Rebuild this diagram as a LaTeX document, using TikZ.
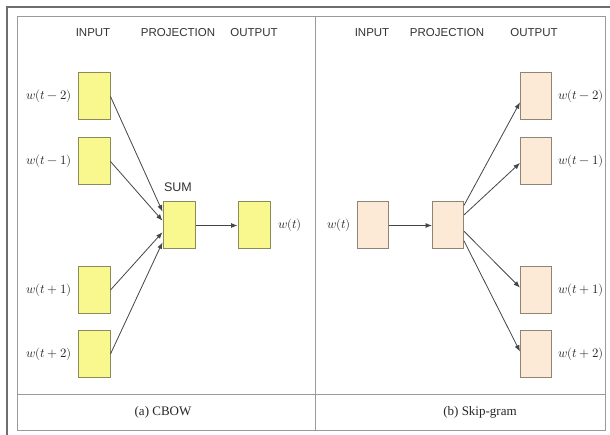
\documentclass[tikz,border=0pt]{standalone}
\usepackage{fontspec}
\usepackage{unicode-math}
\setmainfont{Liberation Serif}
\newfontfamily\hdrfont{Liberation Sans}
\usetikzlibrary{arrows.meta,calc}
\definecolor{ybfill}{HTML}{F8F88E}
\definecolor{ybdraw}{HTML}{8A8A5A}
\definecolor{pbfill}{HTML}{FCEAD6}
\definecolor{pbdraw}{HTML}{8E8478}
\definecolor{framegray}{HTML}{9A9A9A}
\definecolor{outergray}{HTML}{6E6E6E}
\definecolor{arrgray}{HTML}{454545}
\tikzset{
  ybox/.style={draw=ybdraw, fill=ybfill, line width=1pt, minimum width=32pt, minimum height=47pt, inner sep=0pt},
  pbox/.style={draw=pbdraw, fill=pbfill, line width=1pt, minimum width=31pt, minimum height=47pt, inner sep=0pt},
  hdr/.style={font=\hdrfont\fontsize{11.5}{13}\selectfont, text=black!80, inner sep=0pt},
  wlab/.style={font=\fontsize{12.8}{14}\selectfont, text=black!85, inner sep=0pt},
  capt/.style={font=\fontsize{13}{15}\selectfont, text=black!85, inner sep=0pt},
  conn/.style={draw=arrgray, line width=0.8pt, -{Latex[length=6.5pt,width=5pt]}}
}
\begin{document}
\begin{tikzpicture}[x=1pt,y=-1pt]
\useasboundingbox (0,0) rectangle (610,435);
\fill[white] (0,0) rectangle (610,435);
% outer lines
\draw[outergray, line width=1.5pt] (7,435) -- (7,7) -- (610,7);
% inner frame
\draw[framegray, line width=1pt] (17,17) rectangle (605,430);
\draw[framegray, line width=1pt] (315,17) -- (315,430);
\draw[framegray, line width=1pt] (17,394) -- (605,394);

% headers
\node[hdr] (hl1) at (93,33) {INPUT};
\node[hdr] (hl2) at (178,33) {PROJECTION};
\node[hdr] (hl3) at (254,33) {OUTPUT};
\node[hdr] (hr1) at (372,33) {INPUT};
\node[hdr] (hr2) at (447,33) {PROJECTION};
\node[hdr] (hr3) at (534,33) {OUTPUT};

% left panel: CBOW
\node[ybox] (i1) at (94,96.5) {};
\node[ybox] (i2) at (94,161.5) {};
\node[ybox] (i3) at (94,290) {};
\node[ybox] (i4) at (94,354) {};
\node[ybox] (sum) at (179,225.5) {};
\node[ybox] (out) at (254,225.5) {};
\node[hdr, font=\hdrfont\fontsize{12.5}{14}\selectfont] (sumlab) at (178,187) {SUM};

\node[wlab] (li1) at (49,96.5) {$w(t-2)$};
\node[wlab] (li2) at (49,161.5) {$w(t-1)$};
\node[wlab] (li3) at (49,290) {$w(t+1)$};
\node[wlab] (li4) at (49,354) {$w(t+2)$};
\node[wlab] (lout) at (290,225.5) {$w(t)$};

\draw[conn] (i1.east) -- ($(sum.north west)!0.21!(sum.south west)$);
\draw[conn] (i2.east) -- ($(sum.north west)!0.40!(sum.south west)$);
\draw[conn] (i3.east) -- ($(sum.north west)!0.64!(sum.south west)$);
\draw[conn] (i4.east) -- ($(sum.north west)!0.85!(sum.south west)$);
\draw[conn] (sum.east) -- (out.west);

% right panel: Skip-gram
\node[pbox] (rin) at (372.5,225.5) {};
\node[pbox] (rproj) at (448,225.5) {};
\node[pbox] (o1) at (536,96.5) {};
\node[pbox] (o2) at (536,161.5) {};
\node[pbox] (o3) at (536,290) {};
\node[pbox] (o4) at (536,354) {};

\node[wlab] (lrin) at (339,225.5) {$w(t)$};
\node[wlab] (lo1) at (581,96.5) {$w(t-2)$};
\node[wlab] (lo2) at (581,161.5) {$w(t-1)$};
\node[wlab] (lo3) at (581,290) {$w(t+1)$};
\node[wlab] (lo4) at (581,354) {$w(t+2)$};

\draw[conn] (rin.east) -- (rproj.west);
\draw[conn] ($(rproj.north east)!0.08!(rproj.south east)$) -- ($(o1.north west)!0.62!(o1.south west)$);
\draw[conn] ($(rproj.north east)!0.28!(rproj.south east)$) -- ($(o2.north west)!0.53!(o2.south west)$);
\draw[conn] ($(rproj.north east)!0.62!(rproj.south east)$) -- ($(o3.north west)!0.45!(o3.south west)$);
\draw[conn] ($(rproj.north east)!0.82!(rproj.south east)$) -- ($(o4.north west)!0.45!(o4.south west)$);

% captions
\node[capt] (ca) at (163,412) {(a) CBOW};
\node[capt] (cb) at (480,412) {(b) Skip-gram};
\end{tikzpicture}
\end{document}
